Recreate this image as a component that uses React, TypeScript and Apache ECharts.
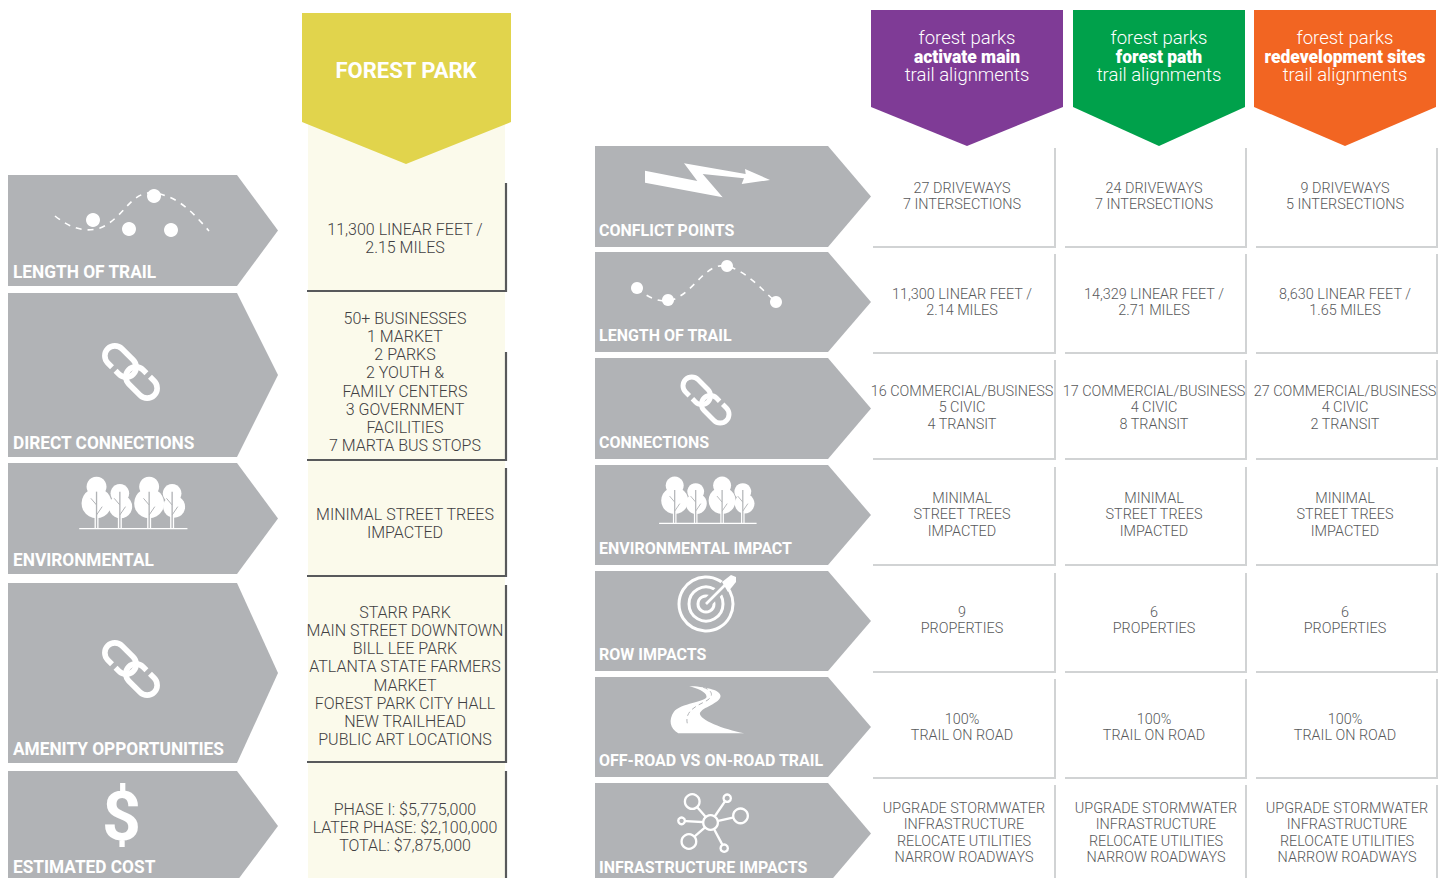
import React, { useEffect, useRef } from "react";
import * as echarts from "echarts";

// ---------- content ----------
const forestParkTitle = "FOREST PARK";
const leftLabels = ["LENGTH OF TRAIL", "DIRECT CONNECTIONS", "ENVIRONMENTAL", "AMENITY OPPORTUNITIES", "ESTIMATED COST"];
const leftValues = [
  ["11,300 LINEAR FEET /", "2.15 MILES"],
  ["50+ BUSINESSES", "1 MARKET", "2 PARKS", "2 YOUTH &", "FAMILY CENTERS", "3 GOVERNMENT", "FACILITIES", "7 MARTA BUS STOPS"],
  ["MINIMAL STREET TREES", "IMPACTED"],
  ["STARR PARK", "MAIN STREET DOWNTOWN", "BILL LEE PARK", "ATLANTA STATE FARMERS", "MARKET", "FOREST PARK CITY HALL", "NEW TRAILHEAD", "PUBLIC ART LOCATIONS"],
  ["PHASE I: $5,775,000", "LATER PHASE: $2,100,000", "TOTAL: $7,875,000"],
];
const rightLabels = ["CONFLICT POINTS", "LENGTH OF TRAIL", "CONNECTIONS", "ENVIRONMENTAL IMPACT", "ROW IMPACTS", "OFF-ROAD VS ON-ROAD TRAIL", "INFRASTRUCTURE IMPACTS"];
const headerFirstLine = "forest parks";
const headerLastLine = "trail alignments";
const headerBoldLines = ["activate main", "forest path", "redevelopment sites"];
const infrastructure = ["UPGRADE STORMWATER", "INFRASTRUCTURE", "RELOCATE UTILITIES", "NARROW ROADWAYS"];
const treesText = ["MINIMAL", "STREET TREES", "IMPACTED"];
const activateValues = [
  ["27 DRIVEWAYS", "7 INTERSECTIONS"],
  ["11,300 LINEAR FEET /", "2.14 MILES"],
  ["16 COMMERCIAL/BUSINESS", "5 CIVIC", "4 TRANSIT"],
  treesText,
  ["9", "PROPERTIES"],
  ["100%", "TRAIL ON ROAD"],
  infrastructure,
];
const forestPathValues = [
  ["24 DRIVEWAYS", "7 INTERSECTIONS"],
  ["14,329 LINEAR FEET /", "2.71 MILES"],
  ["17 COMMERCIAL/BUSINESS", "4 CIVIC", "8 TRANSIT"],
  treesText,
  ["6", "PROPERTIES"],
  ["100%", "TRAIL ON ROAD"],
  infrastructure,
];
const redevelopmentValues = [
  ["9 DRIVEWAYS", "5 INTERSECTIONS"],
  ["8,630 LINEAR FEET /", "1.65 MILES"],
  ["27 COMMERCIAL/BUSINESS", "4 CIVIC", "2 TRANSIT"],
  treesText,
  ["6", "PROPERTIES"],
  ["100%", "TRAIL ON ROAD"],
  infrastructure,
];
const columnValues = [activateValues, forestPathValues, redevelopmentValues];

// ---------- layout ----------
const W = 1445, H = 878;
const FONT = "Roboto";
const GREY = "#b1b3b6", PALE = "#fbfaeb", DARK = "#58595b", RULE = "#d1d3d4", INK = "#414042";
const leftRows = [[175, 286], [293, 457], [463, 574], [583, 763], [771, 881]];
const leftCellLines = [[183, 291], [352, 460], [468, 576], [585, 762], [771, 890]];
const leftTextTop = [229, 318, 514, 612, 809];
const rightRows = [[146, 247], [252, 352], [358, 459], [465, 565], [571, 671], [677, 777], [783, 884]];
const ruleBottoms = [247, 353, 459, 565, 672, 778, 900];
const ruleTops = [148, 254, 360, 467, 573, 679, 785];
const rightTextTop = [188, 294, 391, 498, 612, 719, 808];
const columnBoxes = [
  { x0: 871, x1: 1063, tip: 967, fill: "#7f3b96", cellL: 873, cellR: 1055, text: 962 },
  { x0: 1073, x1: 1245, tip: 1159, fill: "#00a14b", cellL: 1065, cellR: 1246, text: 1154 },
  { x0: 1254, x1: 1436, tip: 1345, fill: "#f26522", cellL: 1256, cellR: 1437, text: 1345 },
];

// ---------- icon outlines ----------
const L = 8, R = 10;
echarts.graphic.registerShape("linkHalf", echarts.graphic.extendPath(
  `M -2 ${R} L ${-L} ${R} A ${R} ${R} 0 0 1 ${-L} ${-R} L ${L} ${-R} A ${R} ${R} 0 0 1 ${L} ${R} L ${L - 5} ${R}`, {}) as any);
echarts.graphic.registerShape("roadShape", echarts.graphic.extendPath(
  "M298 48 C340 50 392 58 392 78 C392 100 335 112 330 130 C328 150 400 178 463 190 L265 190 C240 175 235 150 252 125 C270 100 350 95 350 80 C350 65 320 55 298 48 Z", {}) as any);
echarts.graphic.registerShape("roadDash", echarts.graphic.extendPath(
  "M340 52 C372 62 372 82 345 95 C315 110 285 125 292 160", {}) as any);
echarts.graphic.registerShape("trailA", echarts.graphic.extendPath(
  "M55 216 C70 228 85 233 100 228 C125 218 130 190 155 193 C180 197 195 215 209 231", {}) as any);
echarts.graphic.registerShape("trailB", echarts.graphic.extendPath(
  "M637 288 C648 298 660 303 672 300 C695 292 705 262 727 266 C748 272 762 290 776 302", {}) as any);

const dot = (cx: number, cy: number, r: number, fill = "#fff") => ({ type: "circle", shape: { cx, cy, r }, style: { fill } });
const seg = (x1: number, y1: number, x2: number, y2: number, stroke: string, lineWidth: number) => ({
  type: "line", shape: { x1, y1, x2, y2 }, style: { stroke, lineWidth },
});
const ringAt = (cx: number, cy: number, r: number, lineWidth: number) => ({
  type: "circle", shape: { cx, cy, r }, style: { fill: "none", stroke: "#fff", lineWidth },
});
const linkIcon = (x: number, y: number, s: number) => ({
  type: "group", x, y, scaleX: s, scaleY: s,
  children: [
    { type: "linkHalf", x: -10.5, y: -10.5, rotation: -Math.PI / 4, style: { fill: "none", stroke: "#fff", lineWidth: 5.6 } },
    { type: "linkHalf", x: 10.5, y: 10.5, rotation: (3 * Math.PI) / 4, style: { fill: "none", stroke: "#fff", lineWidth: 5.6 } },
  ],
});
const treeSpecs = [
  { x: 290, topY: 110, topR: 30, lowY: 160, lowR: 45, lowX: 290 },
  { x: 360, topY: 130, topR: 28, lowY: 170, lowR: 35, lowX: 362 },
  { x: 448, topY: 110, topR: 30, lowY: 160, lowR: 45, lowX: 448 },
  { x: 517, topY: 130, topR: 28, lowY: 170, lowR: 33, lowX: 523 },
];
const treesIcon = (x: number, y: number, s: number) => ({
  type: "group", x, y, scaleX: s / 3, scaleY: s / 3, originX: 0, originY: 0,
  children: [{
    type: "group", x: -400, y: -158,
    children: [
      ...treeSpecs.flatMap((t) => [
        dot(t.x, t.topY, t.topR),
        dot(t.lowX, t.lowY, t.lowR),
        seg(t.x, 195, t.x, 236, "#fff", 12),
        seg(t.x, 125, t.x, 236, GREY, 4),
        seg(t.x, 165, t.x - 17, 145, GREY, 3),
        seg(t.x, 195, t.x + 17, 170, GREY, 3),
      ]),
      seg(238, 236, 563, 236, "#fff", 4),
    ],
  }],
});
const lightningPoints = [[195, 512], [352, 543], [312, 490], [497, 522], [495, 507], [570, 540], [485, 552], [492, 535], [368, 522], [428, 592], [195, 548]]
  .map(([a, b]) => [a / 3 + 580, b / 3]);
const targetIcon = {
  type: "group",
  children: [
    ringAt(706, 604, 27, 3), ringAt(706, 604, 17, 3), ringAt(706, 604, 8, 3),
    seg(708, 602, 729, 581, GREY, 9),
    seg(706, 604, 728, 582, "#fff", 2.6),
    { type: "polygon", shape: { points: [[722, 582], [731, 575], [736, 577], [736, 582], [728, 592]] }, style: { fill: "#fff" } },
  ],
};
const roadIcon = {
  type: "group", x: 590, y: 670, scaleX: 1 / 3, scaleY: 1 / 3,
  children: [
    { type: "roadShape", style: { fill: "#fff" } },
    { type: "roadDash", style: { fill: "none", stroke: GREY, lineWidth: 3, lineDash: [14, 10] } },
  ],
};
const netNodes = [[307, 395, 22], [412, 385, 11], [452, 438, 22], [403, 535, 11], [297, 515, 22], [275, 453, 10]];
const networkIcon = {
  type: "group", x: 590, y: 670, scaleX: 1 / 3, scaleY: 1 / 3,
  children: [
    ...netNodes.map(([x, y]) => seg(362, 458, x, y, "#fff", 7)),
    ...netNodes.map(([x, y, r]) => ({ type: "circle", shape: { cx: x, cy: y, r }, style: { fill: GREY, stroke: "#fff", lineWidth: 7 } })),
    { type: "circle", shape: { cx: 362, cy: 458, r: 22 }, style: { fill: GREY, stroke: "#fff", lineWidth: 7 } },
  ],
};
const trailIcon = (shape: string, dots: number[][], r: number) => ({
  type: "group",
  children: [
    { type: shape, style: { fill: "none", stroke: "#fff", lineWidth: 1.6, lineDash: [6, 6] } },
    ...dots.map(([x, y]) => dot(x, y, r)),
  ],
});

// ---------- element helpers ----------
const txt = (text: string, x: number, y: number, fontSize: number, fontWeight: number, fill: string, scaleX = 1, align = "center") => ({
  type: "text", x, y, scaleX,
  style: { text, fontFamily: FONT, fontSize, fontWeight, fill, align, verticalAlign: "middle" },
});
const arrow = (x0: number, sh: number, tip: number, y0: number, y1: number) => ({
  type: "polygon",
  shape: { points: [[x0, y0], [sh, y0], [tip, (y0 + y1) / 2], [sh, y1], [x0, y1]] },
  style: { fill: GREY },
});
const banner = (x0: number, x1: number, tipX: number, y0: number, y1: number, tipY: number, fill: string) => ({
  type: "polygon",
  shape: { points: [[x0, y0], [x1, y0], [x1, y1], [tipX, tipY], [x0, y1]] },
  style: { fill },
});

function buildElements() {
  const out: any[] = [];
  // left block
  out.push({ type: "rect", shape: { x: 308, y: 122, width: 197, height: 756 }, style: { fill: PALE } });
  out.push(banner(302, 511, 406, 13, 122, 164, "#e1d44c"));
  out.push(txt(forestParkTitle, 406, 70, 22, 700, "#fff"));
  leftRows.forEach(([y0, y1], i) => {
    out.push(arrow(8, 237, 278, y0, y1));
    out.push(txt(leftLabels[i], 13, y1 - 14, 18, 700, "#fff", 0.96, "left"));
  });
  leftCellLines.forEach(([a, b]) => {
    out.push(seg(506, a, 506, b + 1, DARK, 2.2));
    out.push(seg(307, b, 507, b, DARK, 2.2));
  });
  leftValues.forEach((lines, i) => {
    lines.forEach((line, j) => out.push(txt(line, 405, leftTextTop[i] + j * 18.25, 16, 300, INK)));
  });
  // left icons
  out.push(trailIcon("trailA", [[93, 220], [129, 229], [171, 230], [154, 196]], 7));
  out.push(linkIcon(131, 372, 1));
  out.push(treesIcon(133.3, 502.7, 1));
  out.push(linkIcon(131, 669, 1));
  out.push(txt("$", 121.5, 817, 68, 700, "#fff"));

  // right block
  rightRows.forEach(([y0, y1], i) => {
    out.push(arrow(595, 828, 871, y0, y1));
    out.push(txt(rightLabels[i], 599, y1 - (i === 6 ? 17 : 17), 16.5, 700, "#fff", 0.97, "left"));
  });
  columnBoxes.forEach((c, k) => {
    out.push(banner(c.x0, c.x1, c.tip, 10, 107, 146, c.fill));
    const mid = (c.x0 + c.x1) / 2 - (k === 0 ? 0 : k === 1 ? 0 : 0);
    out.push(txt(headerFirstLine, mid, 38, 18.5, 300, "#fff"));
    out.push(txt(headerBoldLines[k], mid, 57, 18, 900, "#fff", 0.97));
    out.push(txt(headerLastLine, mid, 75, 18.5, 300, "#fff"));
    ruleTops.forEach((top, r) => {
      out.push(seg(c.cellR, top, c.cellR, Math.min(ruleBottoms[r] + 1, H), RULE, 2));
      if (r < 6) out.push(seg(c.cellL, ruleBottoms[r], c.cellR + 1, ruleBottoms[r], RULE, 2));
      const lines = columnValues[k][r];
      const dx = r === 6 ? 2 : 0;
      lines.forEach((line, j) => out.push(txt(line, c.text + dx, rightTextTop[r] + j * 16.6, 14.4, 300, DARK)));
    });
  });
  // right icons
  out.push({ type: "polygon", shape: { points: lightningPoints }, style: { fill: "#fff" } });
  out.push(trailIcon("trailB", [[637, 288], [668, 300], [727, 266], [776, 302]], 6));
  out.push(linkIcon(706, 400, 0.88));
  out.push(treesIcon(707.7, 500, 0.9));
  out.push(targetIcon);
  out.push(roadIcon);
  out.push(networkIcon);
  return out;
}

export default function App() {
  const ref = useRef<HTMLDivElement>(null);
  useEffect(() => {
    document.body.style.margin = "0";
    document.body.style.background = "#fff";
    const chart = echarts.init(ref.current!, undefined, { renderer: "svg" });
    chart.setOption({ animation: false, backgroundColor: "#fff", graphic: { elements: buildElements() } });
    return () => chart.dispose();
  }, []);
  return <div ref={ref} style={{ width: W, height: H, overflow: "hidden" }} />;
}
